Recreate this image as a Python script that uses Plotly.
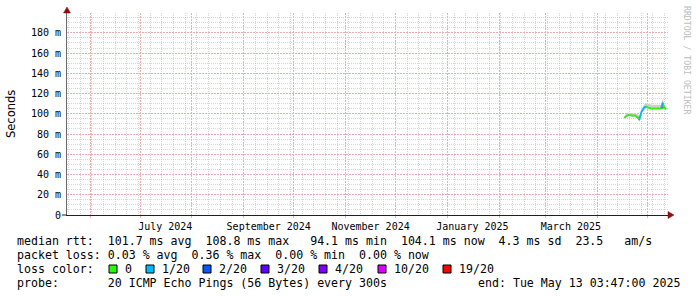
import plotly.graph_objects as go

# ---------------- data ----------------
end_time = "2025-05-13 03:47:00"
start_time = "2024-05-18 03:47:00"

dates = ["2025-04-17", "2025-04-18", "2025-04-19", "2025-04-20", "2025-04-21",
         "2025-04-22", "2025-04-23", "2025-04-24", "2025-04-25", "2025-04-26",
         "2025-04-27", "2025-04-28", "2025-04-29", "2025-04-30", "2025-05-01",
         "2025-05-02", "2025-05-03", "2025-05-04", "2025-05-05", "2025-05-06",
         "2025-05-07", "2025-05-08", "2025-05-09", "2025-05-10", "2025-05-11",
         "2025-05-12"]
median_ms = [96.0, 97.5, 98.5, 99.0, 98.5, 98.0, 98.5, 97.5, 96.5, 94.0,
             101.0, 104.0, 106.5, 107.0, 106.5, 105.5, 105.5, 105.0, 105.5, 105.0,
             105.5, 105.0, 105.5, 111.0, 106.0, 104.5]
smoke_hi = [97.5, 100.0, 101.0, 101.0, 100.5, 100.0, 100.5, 100.0, 99.5, 97.5,
            103.5, 106.5, 109.5, 110.5, 110.0, 109.5, 109.0, 109.0, 109.0, 109.0,
            109.0, 108.5, 109.0, 115.0, 108.5, 106.5]
smoke_lo = [95.0, 96.5, 97.5, 98.0, 97.5, 97.0, 97.5, 96.5, 95.0, 92.0,
            99.5, 102.5, 104.5, 105.5, 105.0, 104.5, 104.5, 104.0, 104.5, 104.0,
            104.5, 104.0, 104.5, 104.0, 105.0, 103.5]
inner_hi = [96.5, 98.0, 99.0, 99.5, 99.0, 98.5, 99.0, 98.0, 97.5, 96.5,
            101.5, 104.5, 107.0, 107.5, 107.0, 106.0, 106.0, 105.5, 106.0, 105.5,
            106.0, 105.5, 106.0, 112.0, 106.5, 105.0]
inner_lo = [95.5, 97.0, 98.0, 98.5, 98.0, 97.5, 98.0, 97.0, 95.5, 93.0,
            100.5, 103.5, 106.0, 106.5, 106.0, 105.0, 105.0, 104.5, 105.0, 104.5,
            105.0, 104.5, 105.0, 105.0, 105.5, 104.0]
loss_20 = [1, 0, 0, 0, 0, 0, 0, 0, 0, 0,
           1, 1, 1, 1, 0, 0, 0, 0, 0, 0,
           0, 0, 0, 1, 0, 0]

loss_levels = [0, 1, 2, 3, 4, 10, 19]
loss_labels = ["0", "1/20", "2/20", "3/20", "4/20", "10/20", "19/20"]
loss_colors = ["#26ff00", "#00b8ff", "#0059ff", "#5e00ff", "#7e00ff", "#dd00ff", "#ff0000"]

y_tickvals = [0, 20, 40, 60, 80, 100, 120, 140, 160, 180]
y_ticktext = ["0", "20 m", "40 m", "60 m", "80 m", "100 m", "120 m", "140 m", "160 m", "180 m"]
x_label_vals = ["2024-07-16", "2024-09-16", "2024-11-16", "2025-01-16", "2025-03-16"]
x_label_text = ["July 2024", "September 2024", "November 2024", "January 2025", "March 2025"]

legend_rtt = "median rtt:  101.7 ms avg  108.8 ms max   94.1 ms min  104.1 ms now  4.3 ms sd  23.5   am/s"
legend_loss = "packet loss: 0.03 % avg  0.36 % max  0.00 % min  0.00 % now"
legend_probe = "probe:       20 ICMP Echo Pings (56 Bytes) every 300s"
legend_end = "end: Tue May 13 03:47:00 2025"

# ---------------- geometry helpers (pixel -> paper) ----------------
W, H = 697, 297
L, R, T, B = 67, 668, 13, 215


def px(x):
    return (x - L) / (R - L)


def py(y):
    return (B - y) / (B - T)


MONO = "DejaVu Sans Mono"
fig = go.Figure()

# smoke
fig.add_trace(go.Scatter(x=dates, y=smoke_lo, mode="lines", line=dict(width=0),
                         hoverinfo="skip", showlegend=False))
fig.add_trace(go.Scatter(x=dates, y=smoke_hi, mode="lines", line=dict(width=0),
                         fill="tonexty", fillcolor="#cfcfcf", hoverinfo="skip", showlegend=False))
fig.add_trace(go.Scatter(x=dates, y=inner_lo, mode="lines", line=dict(width=0),
                         hoverinfo="skip", showlegend=False))
fig.add_trace(go.Scatter(x=dates, y=inner_hi, mode="lines", line=dict(width=0),
                         fill="tonexty", fillcolor="#7a7a7a", hoverinfo="skip", showlegend=False))

# median line, coloured by loss
for lvl, col in zip(loss_levels, loss_colors):
    xs, ys = [], []
    for i in range(1, len(dates)):
        if loss_20[i] == lvl:
            xs += [dates[i - 1], dates[i], None]
            ys += [median_ms[i - 1], median_ms[i], None]
    if xs:
        fig.add_trace(go.Scatter(x=xs, y=ys, mode="lines", line=dict(color=col, width=1.8),
                                 hoverinfo="skip", showlegend=False, connectgaps=False))

# label-only axis trace (invisible)
fig.add_trace(go.Scatter(x=[start_time, end_time], y=[0, 0], xaxis="x2", mode="lines",
                         line=dict(width=0), hoverinfo="skip", showlegend=False))

GRID_MINOR = "rgba(150,150,150,0.38)"
GRID_MAJOR = "#eab0b0"
y_minor_vals = [v for v in range(5, 200, 5) if v % 20 != 0]

fig.update_layout(
    width=W, height=H,
    margin=dict(l=L, r=W - R, t=T, b=H - B),
    paper_bgcolor="white", plot_bgcolor="white",
    showlegend=False,
    xaxis=dict(
        type="date", range=[start_time, end_time],
        tick0="2024-06-01", dtick="M1",
        showgrid=True, gridcolor=GRID_MAJOR, griddash="2px,1px", gridwidth=1,
        showticklabels=False, ticks="outside", ticklen=2, tickcolor=GRID_MAJOR,
        minor=dict(tick0="2024-05-26", dtick=7 * 86400000, showgrid=True,
                   gridcolor=GRID_MINOR, griddash="1px,1px", gridwidth=1),
        showline=True, linecolor="#202020", linewidth=1,
        zeroline=False, fixedrange=True,
    ),
    xaxis2=dict(
        type="date", range=[start_time, end_time], overlaying="x", anchor="y", side="bottom",
        tickvals=x_label_vals, ticktext=x_label_text, showgrid=False, showline=False,
        ticks="outside", ticklen=2, tickcolor="rgba(0,0,0,0)",
        tickfont=dict(family=MONO, size=10, color="#000000"), zeroline=False,
    ),
    yaxis=dict(
        range=[0, 199.6], tickvals=y_tickvals, ticktext=y_ticktext,
        showgrid=True, gridcolor=GRID_MAJOR, griddash="2px,1px", gridwidth=1,
        minor=dict(tickmode="array", tickvals=y_minor_vals, showgrid=True, gridcolor=GRID_MINOR,
                   griddash="1px,1px", gridwidth=1),
        ticks="outside", ticklen=3, tickcolor="rgba(0,0,0,0)",
        tickfont=dict(family=MONO, size=10, color="#000000"),
        showline=True, linecolor="#6a6a6a", linewidth=1, zeroline=False,
    ),
)

shapes = []
# left extension of the x axis
shapes.append(dict(type="line", xref="paper", yref="paper", x0=px(62), x1=px(67), y0=0, y1=0,
                   line=dict(color="#202020", width=1)))
# arrows
shapes.append(dict(type="path", xref="paper", yref="paper",
                   path=f"M {px(63.5)} {py(13)} L {px(70.5)} {py(13)} L {px(67)} {py(7)} Z",
                   fillcolor="#8b1010", line=dict(color="#8b1010", width=0.5)))
shapes.append(dict(type="path", xref="paper", yref="paper",
                   path=f"M {px(668)} {py(211.5)} L {px(668)} {py(218.5)} L {px(674)} {py(215)} Z",
                   fillcolor="#8b1010", line=dict(color="#8b1010", width=0.5)))

annotations = []


def text(s, x, y, anchor="left", size=11.6, family=MONO, color="#000000", angle=0):
    annotations.append(dict(text=s, xref="paper", yref="paper", x=px(x), y=py(y),
                            xanchor=anchor, yanchor="middle", showarrow=False,
                            textangle=angle, font=dict(family=family, size=size, color=color)))


text(legend_rtt, 15, 241)
text(legend_loss, 15, 255)
text("loss color:", 15, 269)
box_x = [109, 146, 203, 261, 319, 378, 443]
for bx, lab, col in zip(box_x, loss_labels, loss_colors):
    shapes.append(dict(type="rect", xref="paper", yref="paper",
                       x0=px(bx), x1=px(bx + 8), y0=py(273), y1=py(265),
                       fillcolor=col, line=dict(color="#000000", width=1)))
    text(lab, bx + 14, 269)
text(legend_probe, 15, 283)
text(legend_end, 682, 283, anchor="right")

text("Seconds", 11, 114, anchor="center", size=11.5, family="DejaVu Sans", angle=-90)
text("RRDTOOL / TOBI OETIKER", 687, 60, anchor="center", size=8.2, color="#bdbdbd", angle=90)

fig.update_layout(shapes=shapes, annotations=annotations)

fig.write_html("out.html")
